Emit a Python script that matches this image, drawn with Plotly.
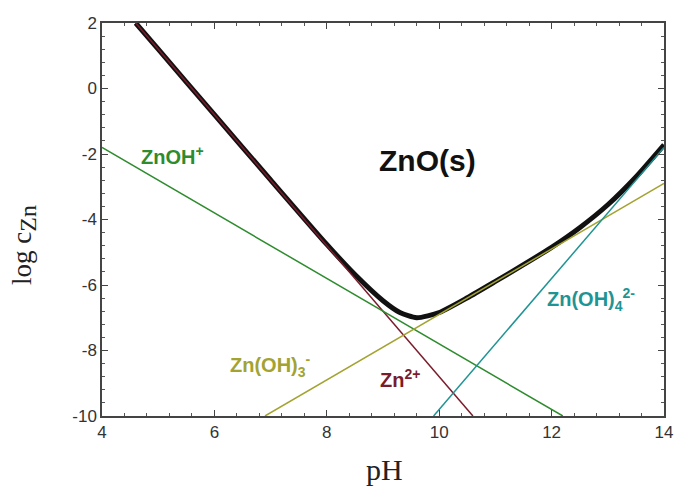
import plotly.graph_objects as go

# Species lines (pH, log c) endpoints
zn2_ph = [4.6, 10.6]
zn2_log = [2.0, -10.0]
znoh_ph = [4.0, 12.2]
znoh_log = [-1.8, -10.0]
znoh3_ph = [6.9, 14.0]
znoh3_log = [-10.0, -2.9]
znoh4_ph = [9.9, 14.0]
znoh4_log = [-10.0, -1.8]

# Total dissolved zinc in equilibrium with ZnO(s)
total_ph = [4.6, 5.0, 6.0, 7.0, 8.0, 8.5, 9.0, 9.3, 9.6, 10.0, 10.5, 11.0, 11.5, 12.0, 12.5, 13.0, 13.5, 14.0]
total_log = [2.0, 1.2, -0.8, -2.79, -4.76, -5.68, -6.48, -6.84, -7.0, -6.84, -6.39, -5.89, -5.38, -4.85, -4.25, -3.55, -2.70, -1.72]

x_ticks = [4, 6, 8, 10, 12, 14]
y_ticks = [2, 0, -2, -4, -6, -8, -10]

C_ZN2 = "#7a1c2c"
C_ZNOH = "#2e8b2e"
C_ZNOH3 = "#a3a332"
C_ZNOH4 = "#1f9494"

fig = go.Figure()
fig.add_trace(go.Scatter(x=total_ph, y=total_log, mode="lines", line=dict(color="#111111", width=5, shape="spline", smoothing=0.6)))
fig.add_trace(go.Scatter(x=zn2_ph, y=zn2_log, mode="lines", line=dict(color=C_ZN2, width=1.5)))
fig.add_trace(go.Scatter(x=znoh_ph, y=znoh_log, mode="lines", line=dict(color=C_ZNOH, width=1.5)))
fig.add_trace(go.Scatter(x=znoh3_ph, y=znoh3_log, mode="lines", line=dict(color=C_ZNOH3, width=1.5)))
fig.add_trace(go.Scatter(x=znoh4_ph, y=znoh4_log, mode="lines", line=dict(color=C_ZNOH4, width=1.5)))

lab_font = "Arial"
annots = [
    dict(x=5.25, y=-2.05, text="<b>ZnOH<sup>+</sup></b>", color=C_ZNOH, size=20),
    dict(x=9.8, y=-2.2, text="<b>ZnO(s)</b>", color="#111111", size=30),
    dict(x=7.0, y=-8.45, text="<b>Zn(OH)<sub>3</sub><sup>-</sup></b>", color=C_ZNOH3, size=20),
    dict(x=9.3, y=-8.85, text="<b>Zn<sup>2+</sup></b>", color=C_ZN2, size=20),
    dict(x=12.7, y=-6.45, text="<b>Zn(OH)<sub>4</sub><sup>2-</sup></b>", color=C_ZNOH4, size=20),
]
for a in annots:
    fig.add_annotation(x=a["x"], y=a["y"], text=a["text"], showarrow=False,
                       font=dict(family=lab_font, size=a["size"], color=a["color"]))

# Axis titles
title_font = dict(family="Liberation Serif", size=27, color="#222222")
fig.add_annotation(xref="paper", yref="paper", x=-0.139, y=0.435, textangle=-90,
                   text="log c<sub><span style='font-size:24px'>Zn</span></sub>",
                   showarrow=False, xanchor="center", yanchor="middle", font=title_font)
fig.add_annotation(xref="paper", yref="paper", x=0.503, y=-0.137,
                   text="pH", showarrow=False, xanchor="center", yanchor="middle",
                   font=dict(family="Liberation Serif", size=30, color="#222222"))

axis_common = dict(
    showgrid=False, zeroline=False, showline=True, linecolor="#444444", linewidth=1.5,
    mirror="allticks", ticks="inside", ticklen=6, tickwidth=1.2, tickcolor="#444444",
    tickfont=dict(family="Arial", size=17, color="#333333"), automargin=False,
    minor=dict(ticks="inside", ticklen=3, tickwidth=1, tickcolor="#555555", dtick=0.4),
)

fig.update_xaxes(range=[4, 14], tickvals=x_ticks, ticktext=[str(v) for v in x_ticks], **axis_common)
fig.update_yaxes(range=[-10, 2], tickvals=y_ticks, ticktext=[str(v) for v in y_ticks], **axis_common)

fig.update_layout(width=676, height=495, showlegend=False,
                  margin=dict(l=102, r=12, t=23, b=79),
                  paper_bgcolor="white", plot_bgcolor="white")

fig.write_html("out.html")
